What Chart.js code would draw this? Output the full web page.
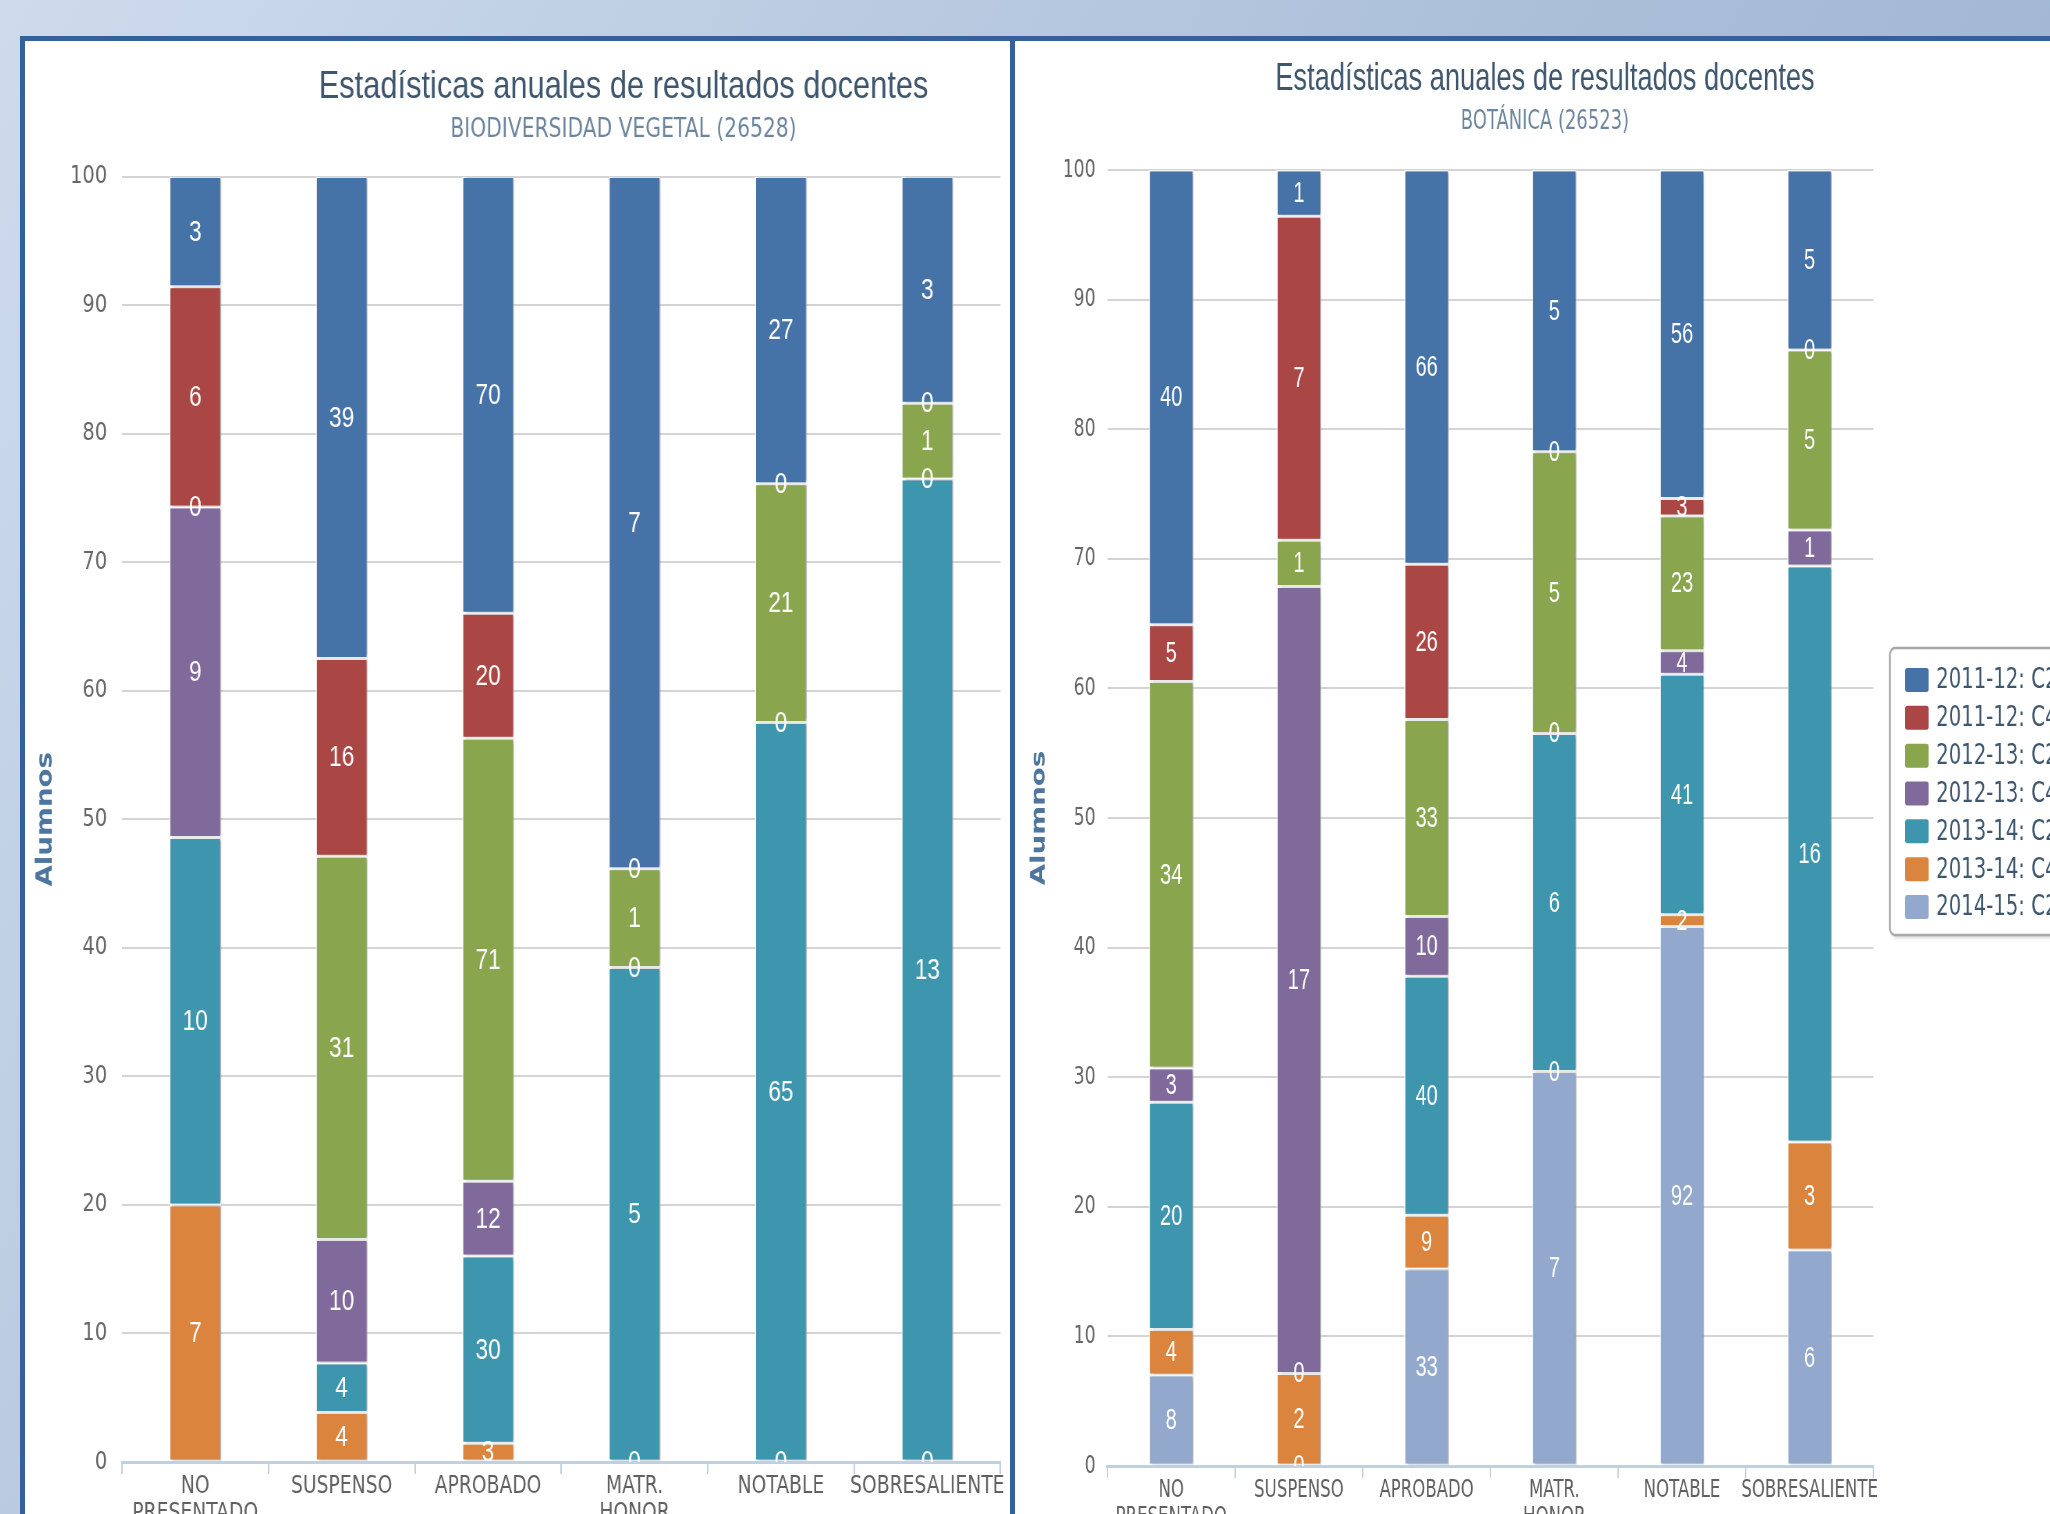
<!DOCTYPE html>
<html>
<head>
<meta charset="utf-8">
<title>Estadísticas anuales de resultados docentes</title>
<script src="https://cdn.jsdelivr.net/npm/chart.js@4.4.1/dist/chart.umd.min.js"></script>
<style>
html,body{margin:0;padding:0;}
body{width:2050px;height:1514px;overflow:hidden;position:relative;
 background:linear-gradient(120deg,#cddbec 0%,#aabed8 55%,#97adcb 100%);}
.panel{position:absolute;background:#fff;border:5px solid #36609a;box-sizing:border-box;}
#panelL{left:20px;top:36px;width:995px;height:1600px;}
#panelR{left:1010px;top:36px;width:1200px;height:1600px;}
.wrap{position:absolute;transform-origin:0 0;}
#wrapL{left:26px;top:42px;width:1262px;height:1500px;transform:scaleX(0.78);}
#wrapR{left:1015px;top:42px;width:1514px;height:1504px;transform:scaleX(0.69);}
</style>
</head>
<body>
<div class="panel" id="panelL"></div>
<div class="panel" id="panelR"></div>
<div class="wrap" id="wrapL"><canvas id="chartL"></canvas></div>
<div class="wrap" id="wrapR"><canvas id="chartR"></canvas></div>
<script>
// categories (x axis)
const categories = [["NO","PRESENTADO"],"SUSPENSO","APROBADO",["MATR.","HONOR"],"NOTABLE","SOBRESALIENTE"];
const seriesNames = ["2011-12: C2","2011-12: C4","2012-13: C2","2012-13: C4","2013-14: C2","2013-14: C4","2014-15: C2"];
const seriesColors = ["#4572A7","#AA4643","#89A54E","#80699B","#3D96AE","#DB843D","#92A8CD"];
const yTicks = [0,10,20,30,40,50,60,70,80,90,100];

// BIODIVERSIDAD VEGETAL (26528) - alumnos
const bio_1112_C2 = [3,39,70,7,27,3];
const bio_1112_C4 = [6,16,20,0,0,0];
const bio_1213_C2 = [0,31,71,1,21,1];
const bio_1213_C4 = [9,10,12,0,0,0];
const bio_1314_C2 = [10,4,30,5,65,13];
const bio_1314_C4 = [7,4,3,0,0,0];

// BOTÁNICA (26523) - alumnos
const bot_1112_C2 = [40,1,66,5,56,5];
const bot_1112_C4 = [5,7,26,0,3,0];
const bot_1213_C2 = [34,1,33,5,23,5];
const bot_1213_C4 = [3,17,10,0,4,1];
const bot_1314_C2 = [20,0,40,6,41,16];
const bot_1314_C4 = [4,2,9,0,2,3];
const bot_1415_C2 = [8,0,33,7,92,6];

const bioSeries = [bio_1112_C2,bio_1112_C4,bio_1213_C2,bio_1213_C4,bio_1314_C2,bio_1314_C4];
const botSeries = [bot_1112_C2,bot_1112_C4,bot_1213_C2,bot_1213_C4,bot_1314_C2,bot_1314_C4,bot_1415_C2];

Chart.defaults.font.family = "'DejaVu Sans', sans-serif";
Chart.defaults.animation = false;

// percent stacking, first series on top (so reversed for chart.js)
function buildDatasets(series){
  let totals = categories.map((c,i)=>series.reduce((s,arr)=>s+arr[i],0));
  return series.map((arr,k)=>({
    label: seriesNames[k],
    counts: arr,
    data: arr.map((v,i)=>totals[i] ? v/totals[i]*100 : 0),
    backgroundColor: seriesColors[k],
    borderColor: "rgba(255,255,255,0.85)",
    borderWidth: 1.5,
    borderSkipped: false
  })).reverse();
}

function decor(cfg){
  return {
    id: "decor",
    beforeDatasetsDraw(chart){
      let c = chart.ctx;
      c.save();
      c.shadowColor = "rgba(0,0,0,0.3)";
      c.shadowBlur = 3;
      c.shadowOffsetX = 3;
    },
    afterDatasetsDraw(chart){
      let ctx = chart.ctx, a = chart.chartArea;
      ctx.restore();
      ctx.save();
      ctx.beginPath();
      ctx.rect(a.left, a.top, a.right-a.left, a.bottom-a.top);
      ctx.clip();
      ctx.font = "29px 'Liberation Sans'";
      ctx.fillStyle = "#fff";
      ctx.textAlign = "center";
      ctx.textBaseline = "middle";
      chart.data.datasets.forEach((ds,i)=>{
        chart.getDatasetMeta(i).data.forEach((bar,j)=>{
          let p = bar.getProps(["x","y","base"],true);
          ctx.fillText(String(ds.counts[j]), p.x, (p.y+p.base)/2 + 1);
        });
      });
      ctx.restore();
    },
    afterDraw(chart){
      let ctx = chart.ctx;
      ctx.save();
      ctx.textAlign = "center";
      ctx.textBaseline = "alphabetic";
      ctx.fillStyle = "#3e576f";
      ctx.font = "39.5px 'Liberation Sans'";
      ctx.fillText("Estadísticas anuales de resultados docentes", cfg.cx, cfg.titleY);
      ctx.fillStyle = "#6d869f";
      ctx.font = "26px 'DejaVu Sans'";
      ctx.fillText(cfg.subtitle, cfg.cx, cfg.subY);
      if(cfg.legend){
        let L = cfg.legend;
        ctx.shadowColor = "rgba(0,0,0,0.25)";
        ctx.shadowBlur = 4; ctx.shadowOffsetX = 2; ctx.shadowOffsetY = 2;
        ctx.fillStyle = "#fff";
        ctx.beginPath(); ctx.roundRect(L.x, L.y, 500, L.h, 7); ctx.fill();
        ctx.shadowColor = "transparent";
        ctx.strokeStyle = "#a8a8a8"; ctx.lineWidth = 2.5; ctx.stroke();
        ctx.textAlign = "left"; ctx.textBaseline = "middle";
        ctx.font = "28.5px 'DejaVu Sans'";
        cfg.count && seriesNames.slice(0,cfg.count).forEach((n,i)=>{
          let cy = L.row0 + i*L.step;
          ctx.fillStyle = seriesColors[i];
          ctx.beginPath(); ctx.roundRect(L.x+22, cy-12, 34, 24, 3); ctx.fill();
          ctx.fillStyle = "#3e576f";
          ctx.fillText(n, L.x+67, cy+1);
        });
      }
      ctx.restore();
    }
  };
}

function makeChart(id, series, o){
  return new Chart(document.getElementById(id), {
    type: "bar",
    data: { labels: categories, datasets: buildDatasets(series) },
    options: {
      responsive: true,
      maintainAspectRatio: false,
      layout: { padding: { top: o.top, left: 0, right: o.right, bottom: 0 } },
      datasets: { bar: { categoryPercentage: 1, barPercentage: o.bar } },
      plugins: { legend: { display: false }, tooltip: { enabled: false } },
      scales: {
        x: {
          stacked: true,
          grid: { display: true, drawOnChartArea: false, drawTicks: true, tickLength: 12, color: "#c0d0e0", lineWidth: 2, offset: true },
          border: { display: true, color: "#c0d0e0", width: 3 },
          ticks: { color: "#606060", font: { size: 24, lineHeight: 1.1 }, padding: 0, maxRotation: 0, minRotation: 0, autoSkip: false },
          afterFit(s){ s.height = 80; }
        },
        y: {
          stacked: true,
          min: 0, max: 100,
          afterBuildTicks(s){ s.ticks = yTicks.map(v=>({value:v})); },
          grid: { color: "#d4d4d4", lineWidth: 2, drawTicks: false },
          border: { display: false },
          ticks: { color: "#666", font: { size: 25 }, padding: o.tickPad },
          title: { display: true, text: "Alumnos", color: "#4d759e", font: { size: 27.7, weight: "bold" }, padding: { top: o.titlePad, bottom: 0 } },
          afterFit(s){ s.width = o.yWidth; }
        }
      }
    },
    plugins: [decor(o.decor)]
  });
}

makeChart("chartL", bioSeries, {
  top: 134.5, right: 12.6, bar: 0.355, tickPad: 19, titlePad: 8.8, yWidth: 123.1,
  decor: { cx: 766, titleY: 56, subtitle: "BIODIVERSIDAD VEGETAL (26528)", subY: 94.7 }
});

makeChart("chartR", botSeries, {
  top: 128, right: 269.8, bar: 0.349, tickPad: 17, titlePad: 18.8, yWidth: 133.9,
  decor: { cx: 768, titleY: 48, subtitle: "BOTÁNICA (26523)", subY: 86.7,
    count: 7, legend: { x: 1268, y: 606, h: 287, row0: 638, step: 37.83 } }
});
</script>
</body>
</html>
